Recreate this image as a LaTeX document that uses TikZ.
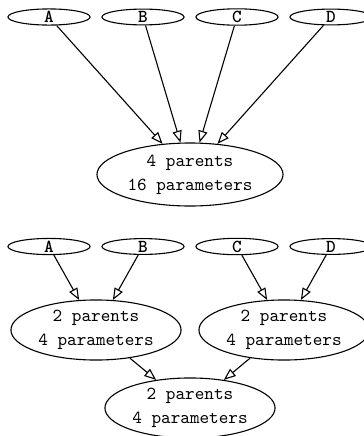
\documentclass[tikz,border=0pt]{standalone}
\usepackage{tikz}
\usetikzlibrary{arrows.meta,shapes.geometric}

\begin{document}
\begin{tikzpicture}[x=0.546pt,y=-0.546pt,line width=0.6pt,
  var/.style={draw,ellipse,inner sep=0pt,minimum width=44.8pt,minimum height=8.6pt,font=\fontsize{10}{10}\selectfont\ttfamily\bfseries},
  cpt/.style={draw,ellipse,inner sep=0pt,align=center,font=\fontsize{10}{13}\selectfont\ttfamily},
  edge/.style={-{Triangle[open,length=6.5pt,width=5pt]}}]
\useasboundingbox (0,0) rectangle (364,436);
% one child, four parents
\node[var] (a1) at (49,17) {A};
\node[var] (b1) at (143,17) {B};
\node[var] (c1) at (237,17) {C};
\node[var] (d1) at (331,17) {D};
\node[cpt,minimum width=101.6pt,minimum height=34.4pt] (all) at (190,174.5) {4 parents\\16 parameters};
\draw[edge] (a1) -- (all);
\draw[edge] (b1) -- (all);
\draw[edge] (c1) -- (all);
\draw[edge] (d1) -- (all);
% the same, two parents at a time
\node[var] (a2) at (49,246.5) {A};
\node[var] (b2) at (143,246.5) {B};
\node[var] (c2) at (237,246.5) {C};
\node[var] (d2) at (331,246.5) {D};
\node[cpt,minimum width=92.9pt,minimum height=32.8pt] (ab) at (96,330) {2 parents\\4 parameters};
\node[cpt,minimum width=92.9pt,minimum height=32.8pt] (cd) at (284,330) {2 parents\\4 parameters};
\node[cpt,minimum width=92.9pt,minimum height=32.8pt] (abcd) at (190,408) {2 parents\\4 parameters};
\draw[edge] (a2) -- (ab);
\draw[edge] (b2) -- (ab);
\draw[edge] (c2) -- (cd);
\draw[edge] (d2) -- (cd);
\draw[edge] (ab) -- (abcd);
\draw[edge] (cd) -- (abcd);
\end{tikzpicture}
\end{document}
